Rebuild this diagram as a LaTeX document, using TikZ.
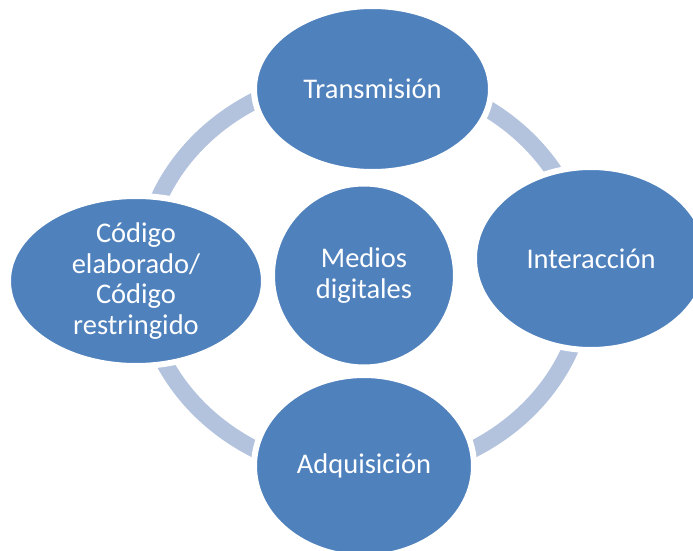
\documentclass[tikz,border=0pt]{standalone}
\usepackage{fontspec}
\setmainfont{Carlito}
\usetikzlibrary{shapes.geometric}
\definecolor{nodeblue}{RGB}{79,129,189}
\definecolor{ringblue}{RGB}{179,195,222}
\tikzset{
  ringline/.style={draw=ringblue, line width=17pt},
  bubble/.style={ellipse, fill=nodeblue, draw=white, line width=6pt, inner sep=0pt,
    text=white, align=center, font=\fontsize{28.5}{30.5}\selectfont}
}
\begin{document}
\begin{tikzpicture}[x=1pt,y=-1pt]
\useasboundingbox (0,0) rectangle (693,551);
\coordinate (ringc) at (364,275);
\draw[ringline] (ringc) ellipse [x radius=222, y radius=200];
\node[bubble, minimum width=237pt, minimum height=166pt] (top) at (372.5,89) {Transmisión};
\node[bubble, minimum width=234pt, minimum height=183pt] (right) at (591,258.5) {Interacción};
\node[bubble, minimum width=220pt, minimum height=182pt] (bottom) at (364,466) {Adquisición};
\node[bubble, minimum width=256pt, minimum height=170pt] (left) at (136,281) {Código\\elaborado/\\Código\\restringido};
\node[bubble, circle, minimum size=184pt] (center) at (364,275.5) {Medios\\digitales};
\end{tikzpicture}
\end{document}
